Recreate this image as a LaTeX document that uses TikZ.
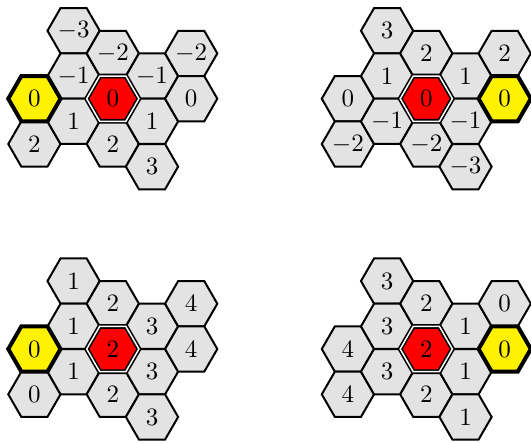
\documentclass[tikz,border=0pt]{standalone}
\usetikzlibrary{shapes.geometric}
\tikzset{
  hexbase/.style={regular polygon, regular polygon sides=6, minimum size=20.9pt, inner sep=0pt, outer sep=0pt},
  hexg/.style={hexbase, draw=black, fill=gray!22, line width=0.8pt},
  hexr/.style={hexbase, draw=black, fill=red, line width=0.65pt, double=white, double distance=0.6pt},
  hexy/.style={hexbase, draw=black, fill=yellow, line width=1.6pt},
}
\newcommand\hx[5]{\node[#4] (#1) at ({\cx+(#2)*39.2}, {\cy+(#3)*22.65}) {$#5$};}
\begin{document}
\begin{tikzpicture}[x=0.4pt, y=-0.4pt]
\useasboundingbox (0,0) rectangle (531,442);
% Panel 1
\def\cx{112.8}\def\cy{98.7}
\hx{a1}{-2}{2}{hexg}{2}
\hx{a2}{-1}{-3}{hexg}{-3}
\hx{a3}{-1}{-1}{hexg}{-1}
\hx{a4}{-1}{1}{hexg}{1}
\hx{a5}{0}{-2}{hexg}{-2}
\hx{a6}{0}{2}{hexg}{2}
\hx{a7}{1}{-1}{hexg}{-1}
\hx{a8}{1}{1}{hexg}{1}
\hx{a9}{1}{3}{hexg}{3}
\hx{a10}{2}{-2}{hexg}{-2}
\hx{a11}{2}{0}{hexg}{0}
\hx{ared}{0}{0}{hexr}{0}
\hx{ayel}{-2}{0}{hexy}{0}
% Panel 2
\def\cx{426.3}\def\cy{98.7}
\hx{b1}{-2}{0}{hexg}{0}
\hx{b2}{-2}{2}{hexg}{-2}
\hx{b3}{-1}{-3}{hexg}{3}
\hx{b4}{-1}{-1}{hexg}{1}
\hx{b5}{-1}{1}{hexg}{-1}
\hx{b6}{0}{-2}{hexg}{2}
\hx{b7}{0}{2}{hexg}{-2}
\hx{b8}{1}{-1}{hexg}{1}
\hx{b9}{1}{1}{hexg}{-1}
\hx{b10}{1}{3}{hexg}{-3}
\hx{b11}{2}{-2}{hexg}{2}
\hx{bred}{0}{0}{hexr}{0}
\hx{byel}{2}{0}{hexy}{0}
% Panel 3
\def\cx{112.8}\def\cy{349}
\hx{c1}{-2}{2}{hexg}{0}
\hx{c2}{-1}{-3}{hexg}{1}
\hx{c3}{-1}{-1}{hexg}{1}
\hx{c4}{-1}{1}{hexg}{1}
\hx{c5}{0}{-2}{hexg}{2}
\hx{c6}{0}{2}{hexg}{2}
\hx{c7}{1}{-1}{hexg}{3}
\hx{c8}{1}{1}{hexg}{3}
\hx{c9}{1}{3}{hexg}{3}
\hx{c10}{2}{-2}{hexg}{4}
\hx{c11}{2}{0}{hexg}{4}
\hx{cred}{0}{0}{hexr}{2}
\hx{cyel}{-2}{0}{hexy}{0}
% Panel 4
\def\cx{426.3}\def\cy{349}
\hx{d1}{-2}{0}{hexg}{4}
\hx{d2}{-2}{2}{hexg}{4}
\hx{d3}{-1}{-3}{hexg}{3}
\hx{d4}{-1}{-1}{hexg}{3}
\hx{d5}{-1}{1}{hexg}{3}
\hx{d6}{0}{-2}{hexg}{2}
\hx{d7}{0}{2}{hexg}{2}
\hx{d8}{1}{-1}{hexg}{1}
\hx{d9}{1}{1}{hexg}{1}
\hx{d10}{1}{3}{hexg}{1}
\hx{d11}{2}{-2}{hexg}{0}
\hx{dred}{0}{0}{hexr}{2}
\hx{dyel}{2}{0}{hexy}{0}
\end{tikzpicture}
\end{document}
